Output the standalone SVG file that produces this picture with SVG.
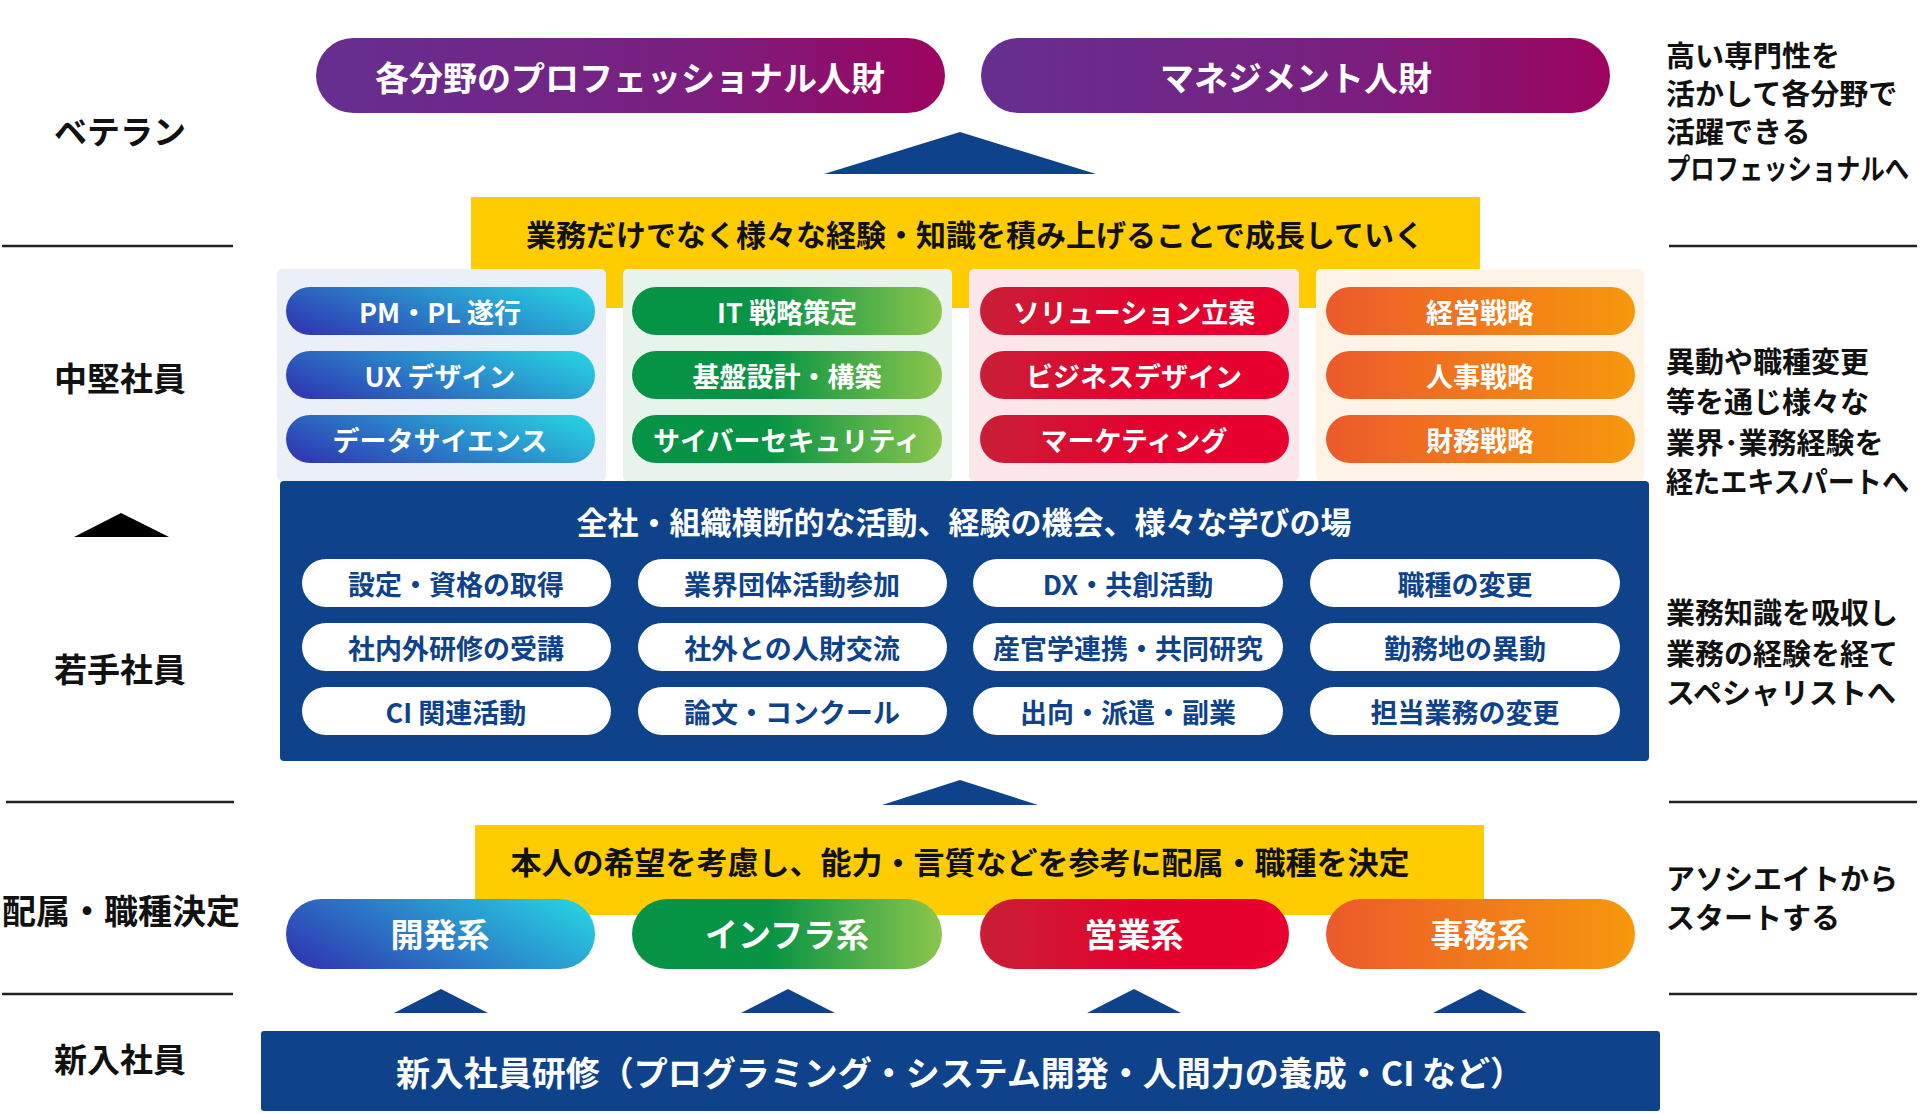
<svg xmlns="http://www.w3.org/2000/svg" width="1921" height="1114" viewBox="0 0 1921 1114">
<defs>
<linearGradient id="gPurple" x1="0" y1="0" x2="1" y2="0"><stop offset="0" stop-color="#652f90"/><stop offset="0.6" stop-color="#7a1f7f"/><stop offset="1" stop-color="#9c045f"/></linearGradient>
<linearGradient id="gBlue" x1="0" y1="0.7" x2="1" y2="0.3"><stop offset="0" stop-color="#2f3db4"/><stop offset="1" stop-color="#27cadf"/></linearGradient>
<linearGradient id="gGreen" x1="0" y1="0.5" x2="1" y2="0.5"><stop offset="0" stop-color="#079346"/><stop offset="0.45" stop-color="#089444"/><stop offset="1" stop-color="#8cc64d"/></linearGradient>
<linearGradient id="gRed" x1="0" y1="0.5" x2="1" y2="0.5"><stop offset="0" stop-color="#c91f35"/><stop offset="0.5" stop-color="#e2032f"/><stop offset="1" stop-color="#e8002f"/></linearGradient>
<linearGradient id="gOrange" x1="0" y1="0.5" x2="1" y2="0.5"><stop offset="0" stop-color="#ec5a2b"/><stop offset="1" stop-color="#f6980c"/></linearGradient>
<style>
text{font-family:"Noto Sans CJK JP","Noto Sans",sans-serif;font-weight:700;dominant-baseline:central}
.lbl{font-size:33px;fill:#111;text-anchor:middle}
.rt{font-size:29px;fill:#111}
.w{fill:#fff;text-anchor:middle}
.top{font-size:34px}
.sp{font-size:27px}
.bp{font-size:33px}
.nv{fill:#0e428a;text-anchor:middle;font-size:27px}
.yt{font-size:30px;fill:#111;text-anchor:middle}
.ln{stroke:#222;stroke-width:2.5}
.navy{fill:#0e428a}
</style>
</defs>

<g id="levels">
<text class="lbl" x="120" y="130">ベテラン</text>
<text class="lbl" x="120" y="377">中堅社員</text>
<polygon points="74,537 121,513 169,537" fill="#000"/>
<text class="lbl" x="120" y="668">若手社員</text>
<text class="lbl" x="121" y="909" style="font-size:34px">配属・職種決定</text>
<text class="lbl" x="120" y="1058">新入社員</text>
<line class="ln" x1="2" y1="246" x2="233" y2="246"/>
<line class="ln" x1="6" y1="802" x2="234" y2="802"/>
<line class="ln" x1="2" y1="994" x2="233" y2="994"/>
<line class="ln" x1="1669" y1="246" x2="1917" y2="246"/>
<line class="ln" x1="1669" y1="802" x2="1917" y2="802"/>
<line class="ln" x1="1669" y1="994" x2="1917" y2="994"/>
</g>

<g id="right-notes">
<text class="rt" x="1666" y="54">高い専門性を</text>
<text class="rt" x="1666" y="92">活かして各分野で</text>
<text class="rt" x="1666" y="130">活躍できる</text>
<text class="rt" x="1666" y="167" textLength="243" lengthAdjust="spacingAndGlyphs">プロフェッショナルへ</text>
<text class="rt" x="1666" y="360">異動や職種変更</text>
<text class="rt" x="1666" y="400">等を通じ様々な</text>
<text class="rt" x="1666" y="441">業界･業務経験を</text>
<text class="rt" x="1666" y="480" textLength="243" lengthAdjust="spacingAndGlyphs">経たエキスパートへ</text>
<text class="rt" x="1666" y="611">業務知識を吸収し</text>
<text class="rt" x="1666" y="652">業務の経験を経て</text>
<text class="rt" x="1666" y="691">スペシャリストへ</text>
<text class="rt" x="1666" y="877">アソシエイトから</text>
<text class="rt" x="1666" y="916">スタートする</text>
</g>

<g id="veteran">
<g id="pro"><rect x="316" y="38" width="629" height="75" rx="37.5" fill="url(#gPurple)"/><text class="w top" x="630" y="76">各分野のプロフェッショナル人財</text></g>
<g id="mgmt"><rect x="981" y="38" width="629" height="75" rx="37.5" fill="url(#gPurple)"/><text class="w top" x="1296" y="76">マネジメント人財</text></g>
</g>

<g id="connectors">
<polygon class="navy" points="824,174 960,132 1096,174"/>
<polygon class="navy" points="882,805 960,780 1038,805"/>
<polygon class="navy" points="394,1013 441,989 488,1013"/>
<polygon class="navy" points="741,1013 788,989 835,1013"/>
<polygon class="navy" points="1087,1013 1134,989 1181,1013"/>
<polygon class="navy" points="1433,1013 1480,989 1527,1013"/>
</g>

<g id="mid-banner">
<rect x="471" y="197" width="1009" height="111" fill="#ffcc00"/>
<text class="yt" x="975" y="233">業務だけでなく様々な経験・知識を積み上げることで成長していく</text>
</g>

<g id="mid-cols">
<g id="col-dev">
<rect x="277" y="269" width="329" height="212" rx="5" fill="#eaeff8"/>
<rect x="286" y="287" width="309" height="48" rx="24" fill="url(#gBlue)"/><text class="w sp" x="440" y="311">PM・PL 遂行</text>
<rect x="286" y="351" width="309" height="48" rx="24" fill="url(#gBlue)"/><text class="w sp" x="440" y="375">UX デザイン</text>
<rect x="286" y="415" width="309" height="48" rx="24" fill="url(#gBlue)"/><text class="w sp" x="440" y="439">データサイエンス</text>
</g>
<g id="col-infra">
<rect x="623" y="269" width="329" height="212" rx="5" fill="#e8f3eb"/>
<rect x="632" y="287" width="310" height="48" rx="24" fill="url(#gGreen)"/><text class="w sp" x="787" y="311">IT 戦略策定</text>
<rect x="632" y="351" width="310" height="48" rx="24" fill="url(#gGreen)"/><text class="w sp" x="787" y="375">基盤設計・構築</text>
<rect x="632" y="415" width="310" height="48" rx="24" fill="url(#gGreen)"/><text class="w sp" x="787" y="439">サイバーセキュリティ</text>
</g>
<g id="col-sales">
<rect x="969" y="269" width="330" height="212" rx="5" fill="#fbe6e9"/>
<rect x="980" y="287" width="309" height="48" rx="24" fill="url(#gRed)"/><text class="w sp" x="1134" y="311">ソリューション立案</text>
<rect x="980" y="351" width="309" height="48" rx="24" fill="url(#gRed)"/><text class="w sp" x="1134" y="375">ビジネスデザイン</text>
<rect x="980" y="415" width="309" height="48" rx="24" fill="url(#gRed)"/><text class="w sp" x="1134" y="439">マーケティング</text>
</g>
<g id="col-admin">
<rect x="1316" y="269" width="328" height="212" rx="5" fill="#fdf3e7"/>
<rect x="1326" y="287" width="309" height="48" rx="24" fill="url(#gOrange)"/><text class="w sp" x="1480" y="311">経営戦略</text>
<rect x="1326" y="351" width="309" height="48" rx="24" fill="url(#gOrange)"/><text class="w sp" x="1480" y="375">人事戦略</text>
<rect x="1326" y="415" width="309" height="48" rx="24" fill="url(#gOrange)"/><text class="w sp" x="1480" y="439">財務戦略</text>
</g>
</g>

<g id="young">
<rect x="280" y="481" width="1369" height="280" rx="4" fill="#0e428a"/>
<text class="w" style="font-size:31px" x="964" y="520">全社・組織横断的な活動、経験の機会、様々な学びの場</text>
<g fill="#fff">
<rect x="302" y="559" width="309" height="48" rx="24"/><rect x="638" y="559" width="309" height="48" rx="24"/><rect x="973" y="559" width="310" height="48" rx="24"/><rect x="1310" y="559" width="310" height="48" rx="24"/>
<rect x="302" y="623" width="309" height="48" rx="24"/><rect x="638" y="623" width="309" height="48" rx="24"/><rect x="973" y="623" width="310" height="48" rx="24"/><rect x="1310" y="623" width="310" height="48" rx="24"/>
<rect x="302" y="687" width="309" height="48" rx="24"/><rect x="638" y="687" width="309" height="48" rx="24"/><rect x="973" y="687" width="310" height="48" rx="24"/><rect x="1310" y="687" width="310" height="48" rx="24"/>
</g>
<text class="nv" x="456" y="583">設定・資格の取得</text>
<text class="nv" x="792" y="583">業界団体活動参加</text>
<text class="nv" x="1128" y="583">DX・共創活動</text>
<text class="nv" x="1465" y="583">職種の変更</text>
<text class="nv" x="456" y="647">社内外研修の受講</text>
<text class="nv" x="792" y="647">社外との人財交流</text>
<text class="nv" x="1128" y="647">産官学連携・共同研究</text>
<text class="nv" x="1465" y="647">勤務地の異動</text>
<text class="nv" x="456" y="711">CI 関連活動</text>
<text class="nv" x="792" y="711">論文・コンクール</text>
<text class="nv" x="1128" y="711">出向・派遣・副業</text>
<text class="nv" x="1465" y="711">担当業務の変更</text>
</g>

<g id="assign">
<rect x="475" y="825" width="1009" height="90" fill="#ffcc00"/>
<text class="yt" x="960" y="860" style="font-size:31px">本人の希望を考慮し、能力・言質などを参考に配属・職種を決定</text>
<g id="dev"><rect x="286" y="899" width="309" height="70" rx="35" fill="url(#gBlue)"/><text class="w bp" x="440" y="933">開発系</text></g>
<g id="infra"><rect x="632" y="899" width="310" height="70" rx="35" fill="url(#gGreen)"/><text class="w bp" x="787" y="933">インフラ系</text></g>
<g id="sales"><rect x="980" y="899" width="309" height="70" rx="35" fill="url(#gRed)"/><text class="w bp" x="1134" y="933">営業系</text></g>
<g id="admin"><rect x="1326" y="899" width="309" height="70" rx="35" fill="url(#gOrange)"/><text class="w bp" x="1480" y="933">事務系</text></g>
</g>

<g id="newhire">
<rect x="261" y="1031" width="1399" height="80" rx="3" fill="#0e428a"/>
<text class="w" style="font-size:34px" x="960" y="1071">新入社員研修（プログラミング・システム開発・人間力の養成・CI など）</text>
</g>
</svg>
